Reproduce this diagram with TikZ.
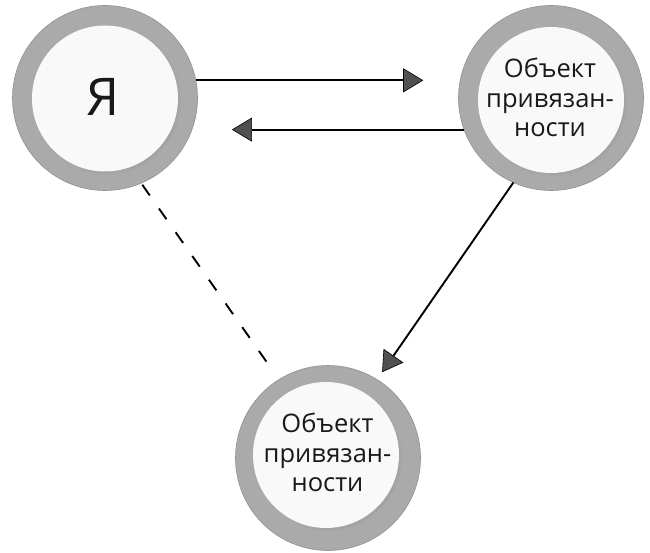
\documentclass[tikz,border=0pt]{standalone}
\usepackage{fontspec}
\setmainfont{Open Sans}
\usetikzlibrary{positioning, arrows.meta, shadows}

\definecolor{ringgray}{RGB}{170,170,170}
\definecolor{edgegray}{RGB}{145,145,145}
\definecolor{coregray}{RGB}{249,249,249}
\definecolor{tipgray}{RGB}{80,80,80}
\definecolor{inkgray}{RGB}{25,25,25}

\tikzset{
    ring/.style={circle, inner sep=0pt, outer sep=0pt, minimum size=185pt,
        fill=ringgray, draw=edgegray, line width=0.6pt},
    core/.style={circle, inner sep=0pt, outer sep=0pt, minimum size=146pt,
        fill=coregray, circular drop shadow={shadow scale=1.02, shadow xshift=2pt,
        shadow yshift=-2pt, opacity=0.45}},
    txt/.style={inner sep=0pt, align=center, text=inkgray,
        font=\fontsize{25.5}{29.5}\selectfont},
    arr/.style={line width=1.9pt, -{Triangle[length=20pt, width=24pt, fill=tipgray, line width=0.6pt]}},
    dashline/.style={line width=1.9pt, dash pattern=on 13pt off 16pt}
}

\begin{document}
\begin{tikzpicture}[x=1pt, y=-1pt]
    \useasboundingbox[fill=white] (0,0) rectangle (650,553);

    % Circles
    \node[ring] (me) at (105,98) {};
    \node[core] (meCore) at (105,98.5) {};
    \node[txt, font=\fontsize{52}{60}\selectfont] (meLabel) at (103.5,97) {Я};

    \node[ring] (objA) at (551,98) {};
    \node[core] (objACore) at (551,100) {};
    \node[txt] (objALabel) at (550,97.5) {Объект\\привязан-\\ности};

    \node[ring] (objB) at (328,458) {};
    \node[core] (objBCore) at (326,455) {};
    \node[txt] (objBLabel) at (327.5,452.5) {Объект\\привязан-\\ности};

    % Connectors
    \draw[arr, shorten >=37pt] (me.11) -- (objA.169);
    \draw[arr, shorten >=40pt] (objA.200) -- (me.-20);
    \draw[arr, shorten >=9pt] (objA.246) -- (objB.58);
    \draw[dashline, shorten <=2pt, shorten >=8pt] (me.-67) -- (objB.122);
\end{tikzpicture}
\end{document}
